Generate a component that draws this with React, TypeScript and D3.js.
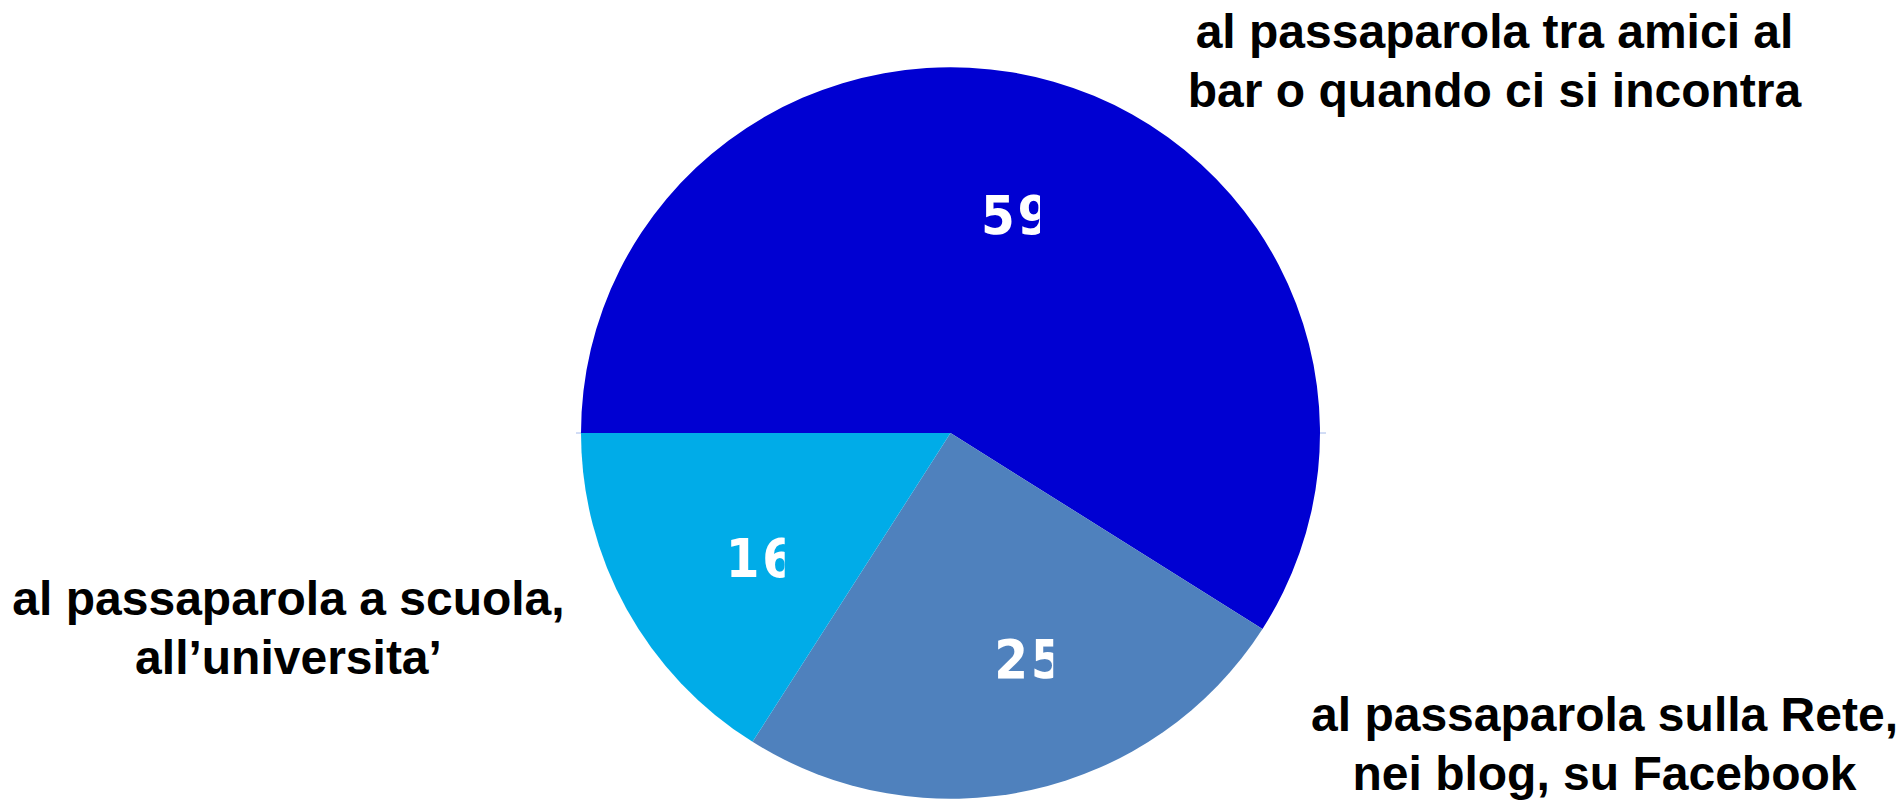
import { useEffect } from "react";
import { arc, pie, PieArcDatum } from "d3";

const WIDTH = 1903;
const HEIGHT = 802;

// data, clockwise from 9 o'clock
const categories = [
  ["al passaparola tra amici al", "bar o quando ci si incontra"],
  ["al passaparola sulla Rete,", "nei blog, su Facebook"],
  ["al passaparola a scuola,", "all\u2019universita\u2019"],
];
const values = [59, 25, 16];
const colors = ["#0000D2", "#4F81BD", "#00ACE8"];

const CX = 950.5;
const CY = 433;
const R = 369.5;
const SQUASH = 0.99;
const LABEL_R = 228;

// nudges from the centroid, Excel-style best fit
const VALUE_NUDGE = [
  [4, 1],
  [31, 3],
  [12, 15],
];
// category label: x of the centered block, baseline of first line, relative to pie center
const CAT_POS = [
  [544, -385],
  [654, 298],
  [-662, 182],
];
const LINE_GAP = 59;

const FONT_NUM = "'DejaVu Sans', sans-serif";
const FONT_CAT = "'Liberation Sans', Arial, sans-serif";

interface Slice {
  value: number;
  index: number;
}

export default function App() {
  useEffect(() => {
    document.body.style.margin = "0";
  }, []);

  const slices = pie<Slice>()
    .sort(null)
    .value((d) => d.value)
    .startAngle(-Math.PI / 2)
    .endAngle((3 * Math.PI) / 2)(values.map((v, i) => ({ value: v, index: i })));

  const arcGen = arc<PieArcDatum<Slice>>().innerRadius(0).outerRadius(R);
  const labelArc = arc<PieArcDatum<Slice>>().innerRadius(LABEL_R).outerRadius(LABEL_R);

  const numPos = slices.map((s, i) => {
    const [lx, ly] = labelArc.centroid(s);
    return [CX + lx + VALUE_NUDGE[i][0] - 37, CY + ly + VALUE_NUDGE[i][1] + 19];
  });

  return (
    <svg
      width={WIDTH}
      height={HEIGHT}
      style={{ position: "absolute", left: 0, top: 0, background: "#fff" }}
    >
      <defs>
        {numPos.map(([x, y], i) => (
          <clipPath key={i} id={`clip-${i}`}>
            <rect x={x - 4} y={y - 60} width={63} height={90} />
          </clipPath>
        ))}
      </defs>
      <line
        x1={CX - R - 5}
        x2={CX + R + 6}
        y1={CY}
        y2={CY}
        stroke="#7f9ee6"
        strokeWidth={1}
        opacity={0.7}
      />
      <g transform={`translate(${CX},${CY}) scale(1,${SQUASH})`}>
        {slices.map((s, i) => (
          <path key={i} d={arcGen(s) ?? undefined} fill={colors[i]} />
        ))}
      </g>
      {slices.map((s, i) => (
        <g key={i} clipPath={`url(#clip-${i})`}>
          <text
            transform={`translate(${numPos[i][0]},${numPos[i][1]}) scale(0.9,1)`}
            fill="#fff"
            fontFamily={FONT_NUM}
            fontWeight="bold"
            fontSize={54}
            letterSpacing={3}
          >
            {s.data.value}
          </text>
        </g>
      ))}
      {categories.map((lines, i) => (
        <text
          key={i}
          x={CX + CAT_POS[i][0]}
          y={CY + CAT_POS[i][1]}
          textAnchor="middle"
          fontFamily={FONT_CAT}
          fontWeight="bold"
          fontSize={48}
          fill="#000"
        >
          {lines.map((t, j) => (
            <tspan key={j} x={CX + CAT_POS[i][0]} dy={j === 0 ? 0 : LINE_GAP}>
              {t}
            </tspan>
          ))}
        </text>
      ))}
    </svg>
  );
}
